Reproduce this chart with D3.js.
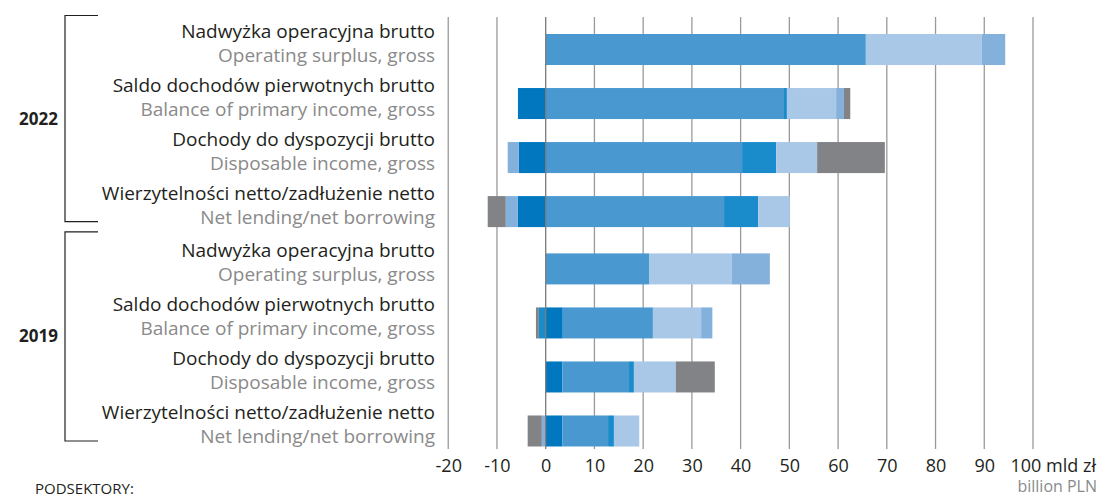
<!DOCTYPE html>
<html>
<head>
<meta charset="utf-8">
<script src="https://cdn.jsdelivr.net/npm/d3@7"></script>
<style>
  body { margin: 0; background: #fff; }
  text { font-family: 'Open Sans', sans-serif; }
</style>
</head>
<body>
<svg width="1103" height="498"></svg>
<script>
const years = ['2022', '2019']
const categoriesPL = [
  'Nadwyżka operacyjna brutto',
  'Saldo dochodów pierwotnych brutto',
  'Dochody do dyspozycji brutto',
  'Wierzytelności netto/zadłużenie netto'
]
const categoriesEN = [
  'Operating surplus, gross',
  'Balance of primary income, gross',
  'Disposable income, gross',
  'Net lending/net borrowing'
]
const ticks = [-20, -10, 0, 10, 20, 30, 40, 50, 60, 70, 80, 90, 100]

// subsectors (legend cut off in the source), rows: 2022 x4, then 2019 x4
const subsectors = ['s1', 's2', 's3', 's4', 's5', 's6']
const colors = ['#0077be', '#4a98d0', '#1a8bcb', '#a9c7e6', '#84b0dc', '#828387']
const s1 = [0, -5.7, -5.5, -5.7, 0, 3.5, 3.4, 3.4]
const s2 = [65.7, 48.9, 40.3, 36.6, 21.2, 18.5, 13.7, 9.4]
const s3 = [0, 0.6, 7.0, 7.0, 0, -1.4, 1.0, 1.2]
const s4 = [23.8, 10.1, 8.4, 6.5, 17.0, 9.9, 8.6, 5.2]
const s5 = [4.8, 1.6, -2.3, -2.5, 7.8, 2.3, 0, -0.8]
const s6 = [0, 1.3, 13.9, -3.7, 0, -0.6, 8.0, -2.9]
const values = [s1, s2, s3, s4, s5, s6]

const svg = d3.select('svg')

const rows = d3.range(8).map(i => {
  const r = {year: years[Math.floor(i / 4)], cat: categoriesPL[i % 4], idx: i % 4}
  subsectors.forEach((k, j) => { r[k] = values[j][i] })
  return r
})

const x = d3.scaleLinear().domain([0, 100]).range([545.7, 1033])

const yOuter = d3.scaleBand()
  .domain(years)
  .range([22.5, 458])
  .paddingInner(0.015)

const yInner = d3.scaleBand()
  .domain(categoriesPL)
  .range([0, yOuter.bandwidth()])
  .paddingInner(0.426)
  .paddingOuter(0.213)

const yPos = d => yOuter(d.year) + yInner(d.cat)

// grid
svg.append('g')
  .selectAll('line')
  .data(ticks.filter(t => t !== 0))
  .enter()
  .append('line')
  .attr('x1', d => x(d)).attr('x2', d => x(d))
  .attr('y1', 17).attr('y2', 449)
  .attr('stroke', '#9a9a9a')
  .attr('stroke-width', 1.3)

// stacked bars
const series = d3.stack()
  .keys(subsectors)
  .offset(d3.stackOffsetDiverging)(rows)

svg.append('g')
  .selectAll('g')
  .data(series)
  .enter()
  .append('g')
  .attr('fill', (d, i) => colors[i])
  .selectAll('rect')
  .data(d => d)
  .enter()
  .append('rect')
  .attr('x', d => x(Math.min(d[0], d[1])))
  .attr('width', d => Math.abs(x(d[1]) - x(d[0])))
  .attr('y', d => yPos(d.data))
  .attr('height', yInner.bandwidth())

// zero line on top
svg.append('line')
  .attr('x1', x(0)).attr('x2', x(0))
  .attr('y1', 17).attr('y2', 449)
  .attr('stroke', '#7a7a7a')
  .attr('stroke-width', 1.3)

// category labels
const labels = svg.append('g')
labels.selectAll('text.pl')
  .data(rows)
  .enter()
  .append('text')
  .attr('class', 'pl')
  .attr('x', 435)
  .attr('y', d => yPos(d) + yInner.bandwidth() / 2 - 12)
  .attr('text-anchor', 'end')
  .attr('font-size', 19)
  .attr('fill', '#231f20')
  .text(d => d.cat)

labels.selectAll('text.en')
  .data(rows)
  .enter()
  .append('text')
  .attr('class', 'en')
  .attr('x', 435)
  .attr('y', d => yPos(d) + yInner.bandwidth() / 2 + 12)
  .attr('text-anchor', 'end')
  .attr('font-size', 19)
  .attr('fill', '#8a8a8a')
  .text(d => categoriesEN[d.idx])

// year brackets
const brackets = svg.append('g')
years.forEach((yr, i) => {
  const top = yOuter(yr) - 7 - i * 3
  const bottom = yOuter(yr) + yOuter.bandwidth() - 17
  brackets.append('path')
    .attr('d', `M98,${top}H65V${bottom}H98`)
    .attr('fill', 'none')
    .attr('stroke', '#231f20')
    .attr('stroke-width', 1.2)
  brackets.append('text')
    .attr('x', 58)
    .attr('y', (top + bottom) / 2 + 6)
    .attr('text-anchor', 'end')
    .attr('font-size', 17)
    .attr('font-weight', 'bold')
    .attr('fill', '#231f20')
    .text(yr)
})

// x axis labels
const axis = svg.append('g')
  .attr('transform', 'translate(0, 454)')
  .call(d3.axisBottom(x).tickValues(ticks).tickSize(0).tickPadding(5)
    .tickFormat(d => d === 100 ? '100 mld zł' : d))
axis.select('.domain').remove()
axis.selectAll('text')
  .attr('font-size', 18)
  .attr('fill', '#231f20')
  .style('font-family', "'Open Sans', sans-serif")
axis.selectAll('.tick')
  .filter(d => d === 100)
  .select('text')
  .attr('text-anchor', 'start')
  .attr('x', -23)

svg.append('text')
  .attr('x', 1097)
  .attr('y', 492)
  .attr('text-anchor', 'end')
  .attr('font-size', 16)
  .attr('fill', '#8a8a8a')
  .text('billion PLN')

svg.append('text')
  .attr('x', 35)
  .attr('y', 494)
  .attr('font-size', 15)
  .attr('fill', '#231f20')
  .text('PODSEKTORY:')
</script>
</body>
</html>
